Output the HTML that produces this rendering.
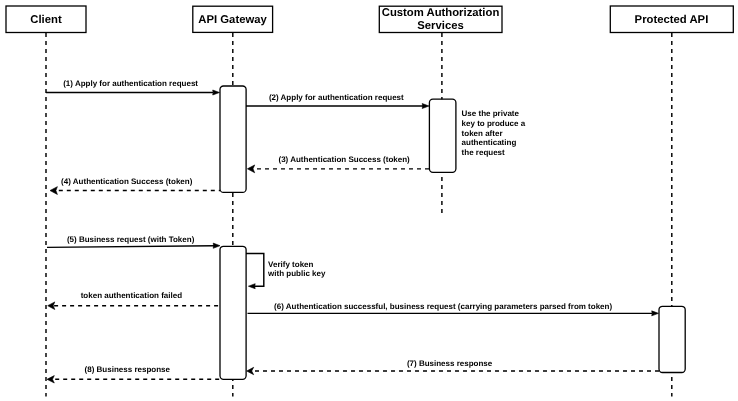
<!DOCTYPE html>
<html><head><meta charset="utf-8"><style>
html,body{margin:0;padding:0;background:#fff;width:738px;height:401px;overflow:hidden}
svg{display:block;filter:grayscale(1)}
text{font-family:"Liberation Sans",sans-serif;font-weight:bold;fill:#000;text-rendering:geometricPrecision}
</style></head><body>
<svg width="738" height="401" viewBox="0 0 738 401">
<rect x="0" y="0" width="738" height="401" fill="#fff"/>
<line x1="46" y1="32.9" x2="46" y2="396.5" stroke="#000" stroke-width="1.45" stroke-dasharray="4 4" stroke-dashoffset="0"/>
<line x1="232.8" y1="32.9" x2="232.8" y2="396.5" stroke="#000" stroke-width="1.45" stroke-dasharray="4 4" stroke-dashoffset="0"/>
<line x1="441.9" y1="32.9" x2="441.9" y2="213" stroke="#000" stroke-width="1.45" stroke-dasharray="4 4" stroke-dashoffset="0"/>
<line x1="671.8" y1="32.9" x2="671.8" y2="396.5" stroke="#000" stroke-width="1.45" stroke-dasharray="4 4" stroke-dashoffset="0"/>
<rect x="6" y="6" width="80.00" height="26.50" rx="0" ry="0" fill="#fff" stroke="#000" stroke-width="1.3"/>
<text x="46" y="22.9" font-size="11.3" text-anchor="middle">Client</text>
<rect x="192.8" y="6.2" width="79.80" height="26.20" rx="0" ry="0" fill="#fff" stroke="#000" stroke-width="1.3"/>
<text x="232.6" y="22.8" font-size="11.3" text-anchor="middle">API Gateway</text>
<rect x="379.3" y="6.2" width="122.70" height="26.30" rx="0" ry="0" fill="#fff" stroke="#000" stroke-width="1.3"/>
<text x="440.5" y="15.9" font-size="11.3" text-anchor="middle">Custom Authorization</text>
<text x="440.5" y="28.9" font-size="11.3" text-anchor="middle">Services</text>
<rect x="610.3" y="6" width="123.00" height="26.50" rx="0" ry="0" fill="#fff" stroke="#000" stroke-width="1.3"/>
<text x="671.45" y="22.8" font-size="11.3" text-anchor="middle">Protected API</text>
<rect x="220" y="86" width="26.10" height="106.40" rx="3.5" ry="3.5" fill="#fff" stroke="#000" stroke-width="1.3"/>
<rect x="429.4" y="99.2" width="26.50" height="73.10" rx="3.5" ry="3.5" fill="#fff" stroke="#000" stroke-width="1.3"/>
<rect x="220" y="246.3" width="26.10" height="133.00" rx="3.5" ry="3.5" fill="#fff" stroke="#000" stroke-width="1.3"/>
<rect x="659" y="306.3" width="26.20" height="66.20" rx="3.5" ry="3.5" fill="#fff" stroke="#000" stroke-width="1.3"/>
<line x1="46" y1="92.5" x2="213" y2="92.5" stroke="#000" stroke-width="1.45"/>
<polygon points="219.50,92.50 212.70,90.00 213.20,92.50 212.70,95.00" fill="#000" stroke="#000" stroke-width="0.6" stroke-linejoin="miter"/>
<text x="63.2" y="86.1" font-size="8" text-anchor="start">(1) Apply for authentication request</text>
<line x1="246" y1="106" x2="423" y2="106" stroke="#000" stroke-width="1.45"/>
<polygon points="429.00,106.00 422.20,103.50 422.70,106.00 422.20,108.50" fill="#000" stroke="#000" stroke-width="0.6" stroke-linejoin="miter"/>
<text x="268.9" y="99.8" font-size="8" text-anchor="start">(2) Apply for authentication request</text>
<line x1="429" y1="168.85" x2="253" y2="168.85" stroke="#000" stroke-width="1.45" stroke-dasharray="4 4" stroke-dashoffset="0"/>
<polygon points="247.40,168.85 254.70,164.95 253.00,168.85 254.70,172.75" fill="#000" stroke="#000" stroke-width="0.6" stroke-linejoin="miter"/>
<text x="278.5" y="161.8" font-size="8" text-anchor="start">(3) Authentication Success (token)</text>
<line x1="220" y1="190.55" x2="55" y2="190.55" stroke="#000" stroke-width="1.45" stroke-dasharray="4 4" stroke-dashoffset="2.8"/>
<polygon points="50.00,190.55 57.40,186.65 55.90,190.55 57.40,194.45" fill="#000" stroke="#000" stroke-width="0.6" stroke-linejoin="miter"/>
<text x="61.1" y="183.8" font-size="8" text-anchor="start">(4) Authentication Success (token)</text>
<line x1="47" y1="247.35" x2="214" y2="245.75" stroke="#000" stroke-width="1.45"/>
<polygon points="220.00,245.70 213.20,243.10 213.60,245.70 213.20,248.30" fill="#000" stroke="#000" stroke-width="0.6" stroke-linejoin="miter"/>
<text x="66.9" y="241.8" font-size="8" text-anchor="start">(5) Business request (with Token)</text>
<polyline points="246,253.4 263.8,253.4 263.8,286.2 254,286.2" fill="none" stroke="#000" stroke-width="1.45"/>
<polygon points="248.40,286.20 255.20,283.70 254.70,286.20 255.20,288.70" fill="#000" stroke="#000" stroke-width="0.6" stroke-linejoin="miter"/>
<text x="268.1" y="267" font-size="8" text-anchor="start">Verify token</text>
<text x="268.1" y="276.2" font-size="8" text-anchor="start">with public key</text>
<line x1="220" y1="305.7" x2="53" y2="305.7" stroke="#000" stroke-width="1.45" stroke-dasharray="4 4" stroke-dashoffset="6.1"/>
<polygon points="47.70,305.70 54.80,301.90 53.20,305.70 54.80,309.50" fill="#000" stroke="#000" stroke-width="0.6" stroke-linejoin="miter"/>
<text x="80.7" y="298.4" font-size="8" text-anchor="start">token authentication failed</text>
<line x1="247.5" y1="313.35" x2="652" y2="313.35" stroke="#000" stroke-width="1.45"/>
<polygon points="658.50,313.35 651.70,310.85 652.20,313.35 651.70,315.85" fill="#000" stroke="#000" stroke-width="0.6" stroke-linejoin="miter"/>
<text x="274.1" y="308.5" font-size="8" text-anchor="start">(6) Authentication successful, business request (carrying parameters parsed from token)</text>
<line x1="659" y1="371" x2="252" y2="371" stroke="#000" stroke-width="1.45" stroke-dasharray="4 4" stroke-dashoffset="0"/>
<polygon points="246.70,371.00 253.70,367.30 251.70,371.00 253.70,374.70" fill="#000" stroke="#000" stroke-width="0.6" stroke-linejoin="miter"/>
<text x="406.9" y="365.9" font-size="8" text-anchor="start">(7) Business response</text>
<line x1="220" y1="379.3" x2="52" y2="379.3" stroke="#000" stroke-width="1.45" stroke-dasharray="4 4" stroke-dashoffset="7.2"/>
<polygon points="47.00,379.30 54.30,375.60 52.50,379.30 54.30,383.00" fill="#000" stroke="#000" stroke-width="0.6" stroke-linejoin="miter"/>
<text x="84.6" y="372.1" font-size="8" text-anchor="start">(8) Business response</text>
<text x="461.6" y="116.2" font-size="8" text-anchor="start">Use the private</text>
<text x="461.6" y="126.1" font-size="8" text-anchor="start">key to produce a</text>
<text x="461.6" y="135.7" font-size="8" text-anchor="start">token after</text>
<text x="461.6" y="145.3" font-size="8" text-anchor="start">authenticating</text>
<text x="461.6" y="154.9" font-size="8" text-anchor="start">the request</text>
</svg>
</body></html>
